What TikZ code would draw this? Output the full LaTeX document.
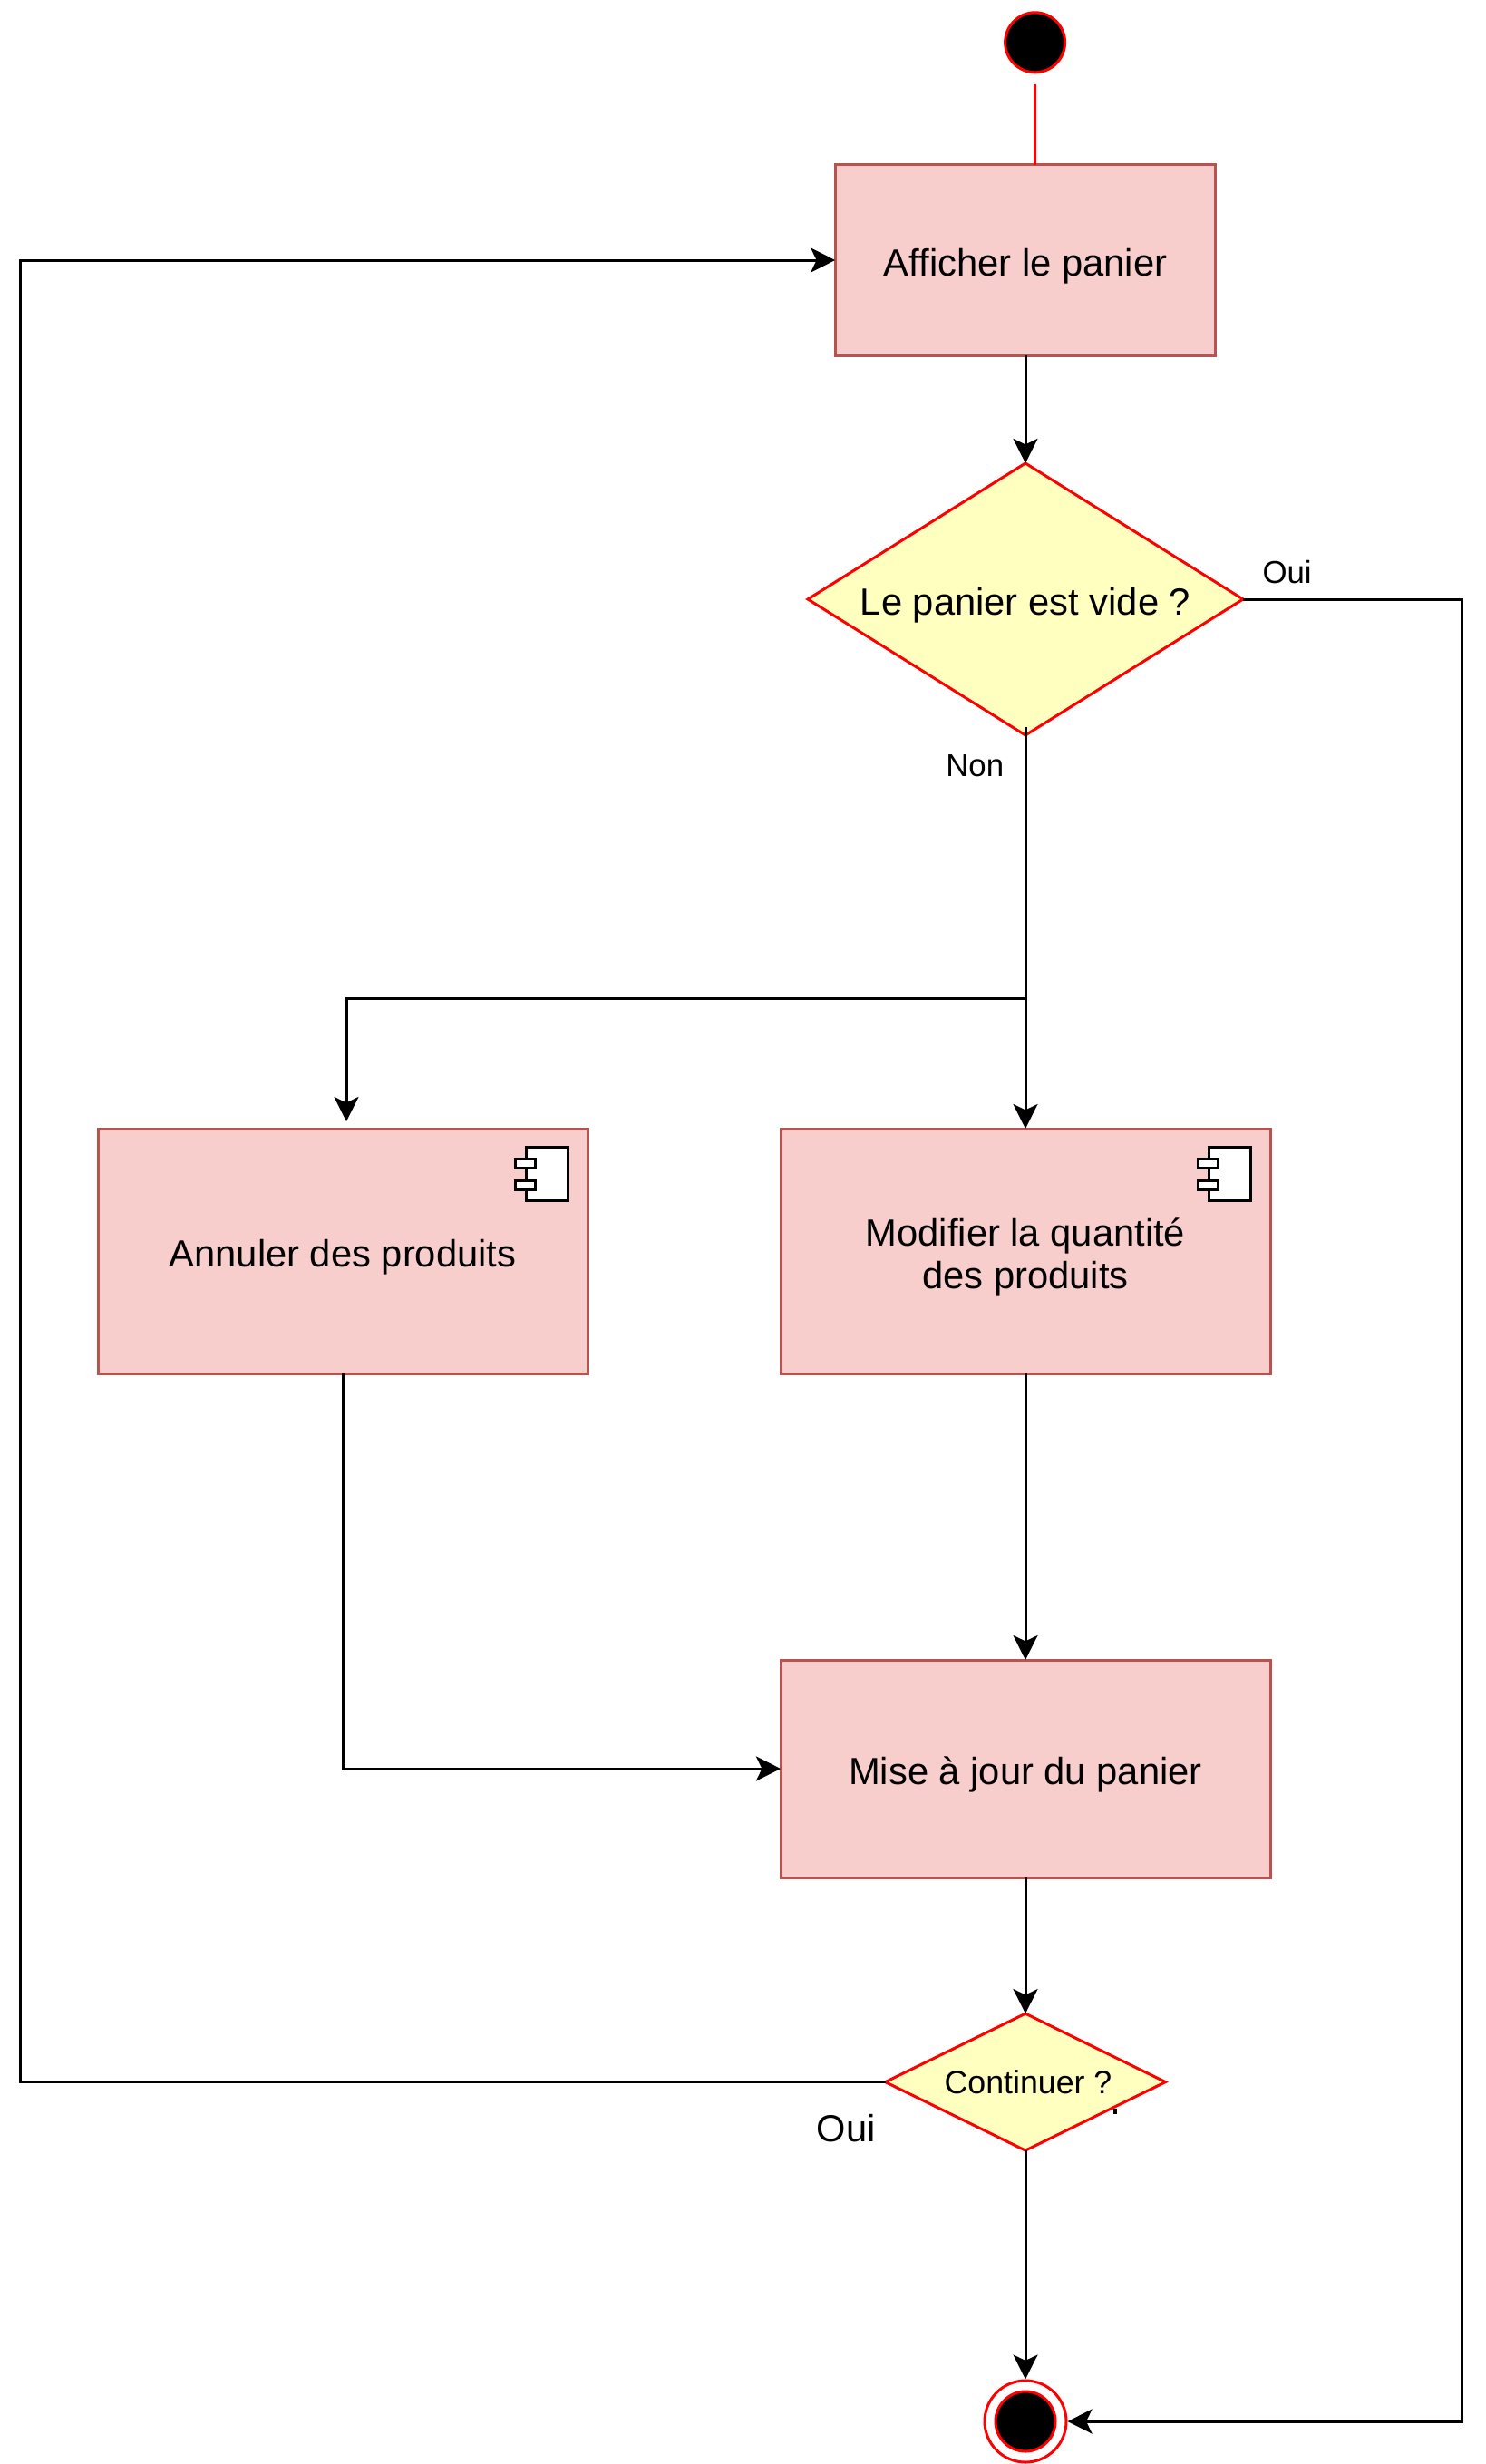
\documentclass[tikz,border=0pt]{standalone}
\usepackage{fontspec}
\setmainfont{Liberation Sans}
\usetikzlibrary{arrows.meta}
\usetikzlibrary{shapes.geometric}
\usetikzlibrary{positioning}

\definecolor{rose}{HTML}{F8CECC}
\definecolor{brique}{HTML}{B85450}
\definecolor{creme}{HTML}{FFFFC0}

\tikzset{
    activite/.style={draw=brique, fill=rose, rectangle, align=center, inner sep=0pt, outer sep=0pt, text height=11pt, font=\fontsize{10.43}{12}\selectfont},
    decision/.style={draw=red, fill=creme, diamond, inner sep=0pt, outer sep=0pt},
    etiquette/.style={font=\fontsize{8.7}{10}\selectfont, inner sep=0pt},
    composant/.pic={
        \draw[fill=white] (-16.9pt,-5.2pt) rectangle (-5.4pt,-19.85pt);
        \draw[fill=white] (-20pt,-8.35pt) rectangle (-14.4pt,-10.85pt);
        \draw[fill=white] (-20pt,-14.35pt) rectangle (-14.4pt,-16.85pt);
    }
}

\begin{document}
\begin{tikzpicture}[line width=0.75pt, >={Stealth[length=6.75pt, width=6.75pt, inset=1.6pt]}, on grid]

    \useasboundingbox (0,0) rectangle (409.5pt,-679.5pt);

    % Les états
    \node[activite, minimum width=104.9pt, minimum height=52.5pt] (panier) at (282.75pt,-71.75pt) {Afficher le panier};
    \node[circle, draw=red, fill=black, minimum size=16.5pt, inner sep=0pt, above right=60.05pt and 2.65pt of panier] (debut) {};
    \node[decision, shape aspect=1.6, minimum width=120pt, minimum height=75pt, text height=11pt, font=\fontsize{10.43}{12}\selectfont, below=93.5pt of panier] (vide) {Le panier est vide ?};
    \node[activite, minimum width=135pt, minimum height=67.5pt, text height=22.7pt, below=179.75pt of vide] (modifier) {Modifier la quantité\\[-0.3pt]des produits};
    \node[activite, minimum width=135pt, minimum height=67.5pt, left=188.25pt of modifier] (annuler) {Annuler des produits};
    \node[activite, minimum width=135pt, minimum height=60pt, below=142.75pt of modifier] (maj) {Mise à jour du panier};
    \node[decision, shape aspect=2, minimum width=77.25pt, minimum height=37.75pt, font=\fontsize{8.93}{10}\selectfont, below=86.4pt of maj] (continuer) {\hspace*{1.5pt}Continuer ?};
    \node[circle, draw=red, minimum size=22.5pt, inner sep=0pt, below=93.6pt of continuer] (fin) {};
    \node[circle, draw=red, fill=black, minimum size=16.5pt, inner sep=0pt] (fincentre) at (fin) {};

    \pic at (annuler.north east) {composant};
    \pic at (modifier.north east) {composant};

    % Les étiquettes
    \node[etiquette, above right=3.9pt and 5pt of vide.east] (ouivide) {Oui};
    \node[etiquette, below left=4.9pt and 5.6pt of vide.south] (nonvide) {Non};
    \node[etiquette, font=\fontsize{10.4}{12}\selectfont, below left=8.5pt and 2.35pt of continuer.west] (ouicontinuer) {Oui};

    % Les points de passage
    \coordinate[below=72.5pt of vide.south] (jonction);
    \coordinate (cible) at (95.5pt,-309.25pt);
    \coordinate (gauche) at (5.6pt,-300pt);
    \coordinate (droite) at (403.2pt,-300pt);
    \coordinate[below right=7.25pt and 24.8pt of continuer.center] (traithaut);
    \coordinate[below=1.5pt of traithaut] (traitbas);

    % Les transitions
    \draw[red, shorten <=3pt] (debut.south) -- (debut.south |- panier.north);
    \path[->]
    (panier) edge (vide)
    (modifier) edge (maj)
    (maj) edge (continuer)
    (continuer) edge (fin);
    \draw[->, shorten <=-2.25pt] (vide.south) -- (modifier.north);
    \draw[->] (jonction) -| (cible);
    \draw[->] (annuler.south) |- (maj.west);
    \draw[->] (vide.east) -| (droite) |- (fin.east);
    \draw[->] (continuer.west) -| (gauche) |- (panier.west);
    \draw[line width=1pt] (traithaut) -- (traitbas);

\end{tikzpicture}
\end{document}
